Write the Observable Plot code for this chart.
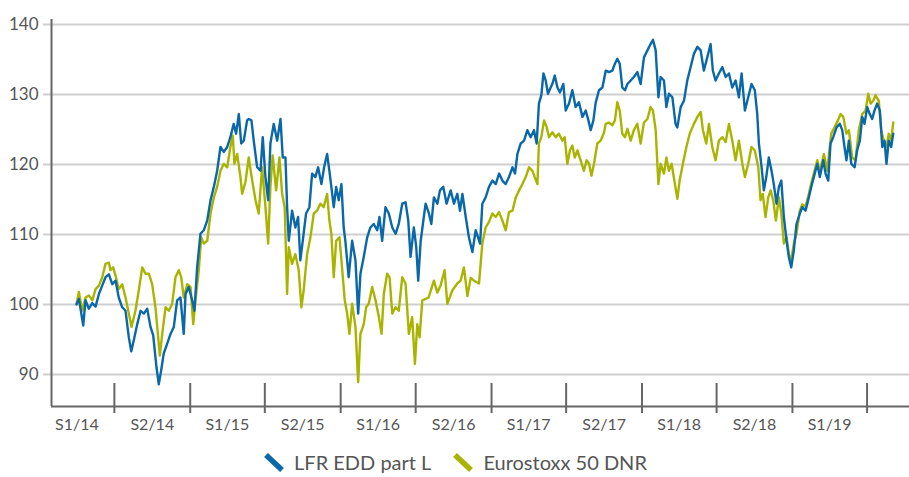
<!DOCTYPE html>
<html>
<head>
<meta charset="utf-8">
<script src="https://cdn.jsdelivr.net/npm/d3@7"></script>
<script src="https://cdn.jsdelivr.net/npm/@observablehq/plot@0.6"></script>
<style>
  html, body { margin: 0; padding: 0; background: #fff; }
  #chart svg { display: block; font-family: Lato, "Open Sans", sans-serif; }
  #legend { display: flex; justify-content: center; align-items: center; gap: 22px; height: 30px;
            font-family: Lato, "Open Sans", sans-serif; font-size: 20px; color: #555; margin-left: 2px; }
  #legend .item { display: flex; align-items: center; gap: 10px; }
</style>
</head>
<body>
<div id="chart"></div>
<div id="legend"></div>
<script>
// ---- data (decimal years, index values) ----
const seriesNames = ["LFR EDD part L", "Eurostoxx 50 DNR"];
const seriesColors = ["#0a67a8", "#a9b400"];

const blueT = [2014.244,2014.260,2014.289,2014.304,2014.326,2014.349,2014.371,2014.393,2014.415,2014.437,2014.459,2014.482,2014.504,2014.525,2014.548,2014.570,2014.592,2014.608,2014.625,2014.648,2014.670,2014.692,2014.714,2014.736,2014.754,2014.776,2014.791,2014.807,2014.824,2014.847,2014.869,2014.891,2014.913,2014.935,2014.957,2014.969,2014.990,2015.013,2015.028,2015.046,2015.068,2015.090,2015.113,2015.135,2015.157,2015.179,2015.201,2015.223,2015.246,2015.267,2015.289,2015.305,2015.323,2015.339,2015.356,2015.378,2015.389,2015.407,2015.422,2015.445,2015.467,2015.482,2015.500,2015.518,2015.533,2015.555,2015.578,2015.600,2015.615,2015.633,2015.644,2015.655,2015.677,2015.699,2015.717,2015.732,2015.748,2015.770,2015.792,2015.810,2015.832,2015.850,2015.872,2015.890,2015.910,2015.925,2015.938,2015.954,2015.970,2015.987,2016.005,2016.020,2016.031,2016.053,2016.076,2016.098,2016.116,2016.131,2016.153,2016.176,2016.197,2016.219,2016.242,2016.257,2016.275,2016.297,2016.319,2016.342,2016.364,2016.385,2016.408,2016.430,2016.448,2016.463,2016.485,2016.501,2016.514,2016.530,2016.548,2016.563,2016.585,2016.601,2016.618,2016.641,2016.658,2016.680,2016.702,2016.729,2016.751,2016.773,2016.791,2016.807,2016.829,2016.850,2016.873,2016.895,2016.924,2016.939,2016.961,2016.983,2017.006,2017.028,2017.050,2017.072,2017.094,2017.116,2017.139,2017.156,2017.172,2017.194,2017.216,2017.238,2017.260,2017.282,2017.300,2017.315,2017.331,2017.345,2017.360,2017.375,2017.393,2017.404,2017.420,2017.438,2017.455,2017.477,2017.493,2017.515,2017.537,2017.559,2017.581,2017.604,2017.626,2017.644,2017.659,2017.677,2017.692,2017.714,2017.737,2017.759,2017.780,2017.803,2017.820,2017.836,2017.852,2017.869,2017.887,2017.903,2017.925,2017.946,2017.969,2017.991,2018.013,2018.036,2018.057,2018.073,2018.091,2018.109,2018.124,2018.146,2018.162,2018.179,2018.202,2018.223,2018.235,2018.257,2018.279,2018.301,2018.323,2018.345,2018.368,2018.390,2018.411,2018.434,2018.456,2018.471,2018.489,2018.511,2018.534,2018.556,2018.578,2018.600,2018.622,2018.644,2018.662,2018.684,2018.706,2018.728,2018.750,2018.766,2018.777,2018.795,2018.810,2018.826,2018.843,2018.861,2018.876,2018.894,2018.910,2018.926,2018.943,2018.961,2018.976,2018.992,2019.009,2019.027,2019.049,2019.065,2019.087,2019.109,2019.125,2019.142,2019.165,2019.182,2019.205,2019.220,2019.238,2019.253,2019.271,2019.293,2019.315,2019.331,2019.346,2019.359,2019.375,2019.391,2019.413,2019.430,2019.448,2019.464,2019.479,2019.497,2019.514,2019.530,2019.545,2019.563,2019.581,2019.597,2019.612,2019.625,2019.640,2019.656,2019.670];
const blueV = [100.0,100.8,97.0,100.6,99.4,100.2,99.7,101.5,102.7,103.9,104.3,102.9,103.4,101.0,99.6,99.1,95.3,93.3,94.9,97.2,99.1,98.7,99.4,96.8,95.6,91.0,88.6,90.6,93.0,94.4,95.8,96.8,100.6,101.0,95.8,101.5,102.5,100.6,99.1,105.3,110.1,110.6,112.0,114.9,116.8,119.1,122.5,121.8,122.5,123.9,125.8,124.4,127.2,123.0,123.4,126.3,126.5,126.3,123.4,119.6,119.1,123.9,118.2,114.9,123.0,125.8,123.4,126.5,121.0,121.0,113.9,109.1,113.4,111.0,112.5,106.3,109.1,113.0,113.9,118.7,118.2,119.6,117.2,119.6,121.5,119.1,116.8,113.9,116.8,114.9,117.2,111.0,109.1,103.9,109.1,106.3,98.7,104.4,106.8,109.6,111.0,111.5,110.6,112.5,109.1,113.9,113.0,111.0,110.1,111.5,114.4,114.6,112.0,106.8,111.0,108.2,103.4,109.0,112.0,114.4,113.0,111.5,115.3,114.4,116.3,116.8,114.4,116.3,114.4,115.8,113.4,115.8,112.5,109.6,107.5,110.6,108.7,114.4,115.3,116.8,117.7,117.2,118.7,117.7,117.2,118.2,119.6,118.7,121.5,123.0,123.4,124.9,123.9,124.9,123.0,128.7,129.9,133.0,132.0,130.1,131.0,131.5,132.7,131.0,130.3,131.5,127.7,128.7,130.6,128.2,128.9,126.8,127.7,126.3,124.9,126.3,128.8,130.6,131.0,133.4,133.2,133.4,134.4,135.1,134.4,131.0,130.6,131.5,132.0,132.5,133.2,131.5,135.3,136.3,137.2,137.8,136.3,129.6,132.5,132.0,128.2,130.1,129.6,125.8,125.3,128.2,129.1,132.0,133.9,135.8,136.8,136.3,133.4,135.3,137.2,133.4,132.0,133.0,133.9,132.5,133.0,131.0,132.0,129.6,133.0,127.7,129.6,131.5,130.6,127.2,123.0,119.6,116.3,118.2,121.0,119.1,117.2,114.4,116.8,117.7,112.5,109.1,106.8,105.3,107.7,111.5,113.0,113.9,113.4,115.3,116.8,118.2,120.1,118.2,120.6,118.7,117.7,123.0,123.9,125.3,125.8,124.9,122.5,120.6,123.4,120.1,119.6,122.0,123.4,126.8,125.8,128.2,127.2,126.5,127.7,128.7,127.7,122.5,123.4,120.1,123.4,122.5,124.4];

const greenT = [2014.244,2014.260,2014.282,2014.304,2014.326,2014.349,2014.371,2014.393,2014.415,2014.437,2014.459,2014.470,2014.488,2014.504,2014.525,2014.548,2014.570,2014.592,2014.610,2014.636,2014.658,2014.681,2014.703,2014.725,2014.747,2014.769,2014.785,2014.798,2014.814,2014.836,2014.858,2014.880,2014.902,2014.924,2014.940,2014.957,2014.980,2015.002,2015.020,2015.035,2015.057,2015.073,2015.090,2015.113,2015.135,2015.157,2015.179,2015.201,2015.223,2015.246,2015.267,2015.283,2015.294,2015.312,2015.334,2015.345,2015.367,2015.389,2015.412,2015.434,2015.455,2015.478,2015.500,2015.518,2015.533,2015.548,2015.571,2015.593,2015.611,2015.628,2015.644,2015.655,2015.677,2015.699,2015.721,2015.739,2015.754,2015.777,2015.799,2015.821,2015.843,2015.865,2015.887,2015.910,2015.925,2015.938,2015.954,2015.970,2015.992,2016.009,2016.027,2016.043,2016.058,2016.076,2016.098,2016.116,2016.131,2016.153,2016.169,2016.186,2016.209,2016.231,2016.253,2016.271,2016.286,2016.308,2016.324,2016.342,2016.364,2016.385,2016.408,2016.430,2016.452,2016.474,2016.492,2016.508,2016.523,2016.541,2016.563,2016.583,2016.618,2016.641,2016.662,2016.689,2016.707,2016.740,2016.773,2016.795,2016.817,2016.840,2016.862,2016.884,2016.917,2016.939,2016.961,2016.983,2017.006,2017.028,2017.050,2017.072,2017.094,2017.116,2017.139,2017.161,2017.183,2017.205,2017.227,2017.249,2017.272,2017.287,2017.305,2017.315,2017.331,2017.349,2017.367,2017.382,2017.404,2017.426,2017.448,2017.471,2017.486,2017.504,2017.521,2017.537,2017.553,2017.571,2017.592,2017.614,2017.632,2017.648,2017.664,2017.681,2017.703,2017.725,2017.747,2017.759,2017.780,2017.803,2017.820,2017.836,2017.852,2017.869,2017.887,2017.903,2017.925,2017.946,2017.969,2017.991,2018.013,2018.036,2018.057,2018.073,2018.091,2018.109,2018.124,2018.146,2018.162,2018.179,2018.197,2018.219,2018.235,2018.250,2018.272,2018.295,2018.317,2018.345,2018.368,2018.390,2018.405,2018.427,2018.445,2018.467,2018.489,2018.511,2018.534,2018.556,2018.578,2018.600,2018.622,2018.644,2018.667,2018.684,2018.706,2018.728,2018.750,2018.773,2018.788,2018.803,2018.821,2018.839,2018.855,2018.872,2018.890,2018.910,2018.926,2018.943,2018.961,2018.976,2018.992,2019.009,2019.027,2019.049,2019.065,2019.087,2019.109,2019.125,2019.142,2019.165,2019.182,2019.209,2019.231,2019.258,2019.280,2019.302,2019.320,2019.338,2019.359,2019.375,2019.397,2019.419,2019.441,2019.464,2019.486,2019.504,2019.519,2019.537,2019.552,2019.574,2019.590,2019.607,2019.625,2019.640,2019.656,2019.670];
const greenV = [100.1,101.8,99.1,101.0,101.3,100.6,102.2,102.7,103.9,105.8,106.0,104.9,105.3,104.1,102.2,102.9,101.0,98.7,96.8,99.1,102.0,105.3,104.4,104.4,102.9,99.6,95.8,92.7,95.8,99.6,99.1,100.1,103.9,104.9,103.9,101.0,102.9,102.5,97.2,100.6,104.9,109.6,108.7,109.1,113.0,115.3,116.8,119.1,120.1,119.6,122.5,124.1,120.1,121.5,118.2,115.8,117.5,121.0,117.7,114.9,113.0,119.6,113.9,108.7,116.8,121.3,116.3,121.0,115.8,113.9,101.5,108.2,105.8,107.2,104.9,99.6,102.0,107.2,109.6,113.0,113.4,114.4,113.9,115.8,112.0,110.1,103.9,109.1,109.6,105.3,100.6,98.7,95.8,100.1,96.8,88.9,95.8,97.2,99.6,100.1,102.5,100.6,98.2,95.8,101.5,104.4,103.9,98.7,99.6,99.1,103.9,103.0,95.8,98.2,91.5,97.2,95.3,100.6,100.8,101.0,103.4,101.7,102.7,104.9,100.1,102.0,103.0,103.4,105.3,101.2,103.8,103.4,103.0,108.7,111.0,111.8,113.0,112.5,113.2,112.0,110.6,113.2,113.4,115.3,116.3,117.2,118.2,119.6,119.1,118.2,117.2,123.0,123.9,126.3,125.3,123.9,124.6,123.9,124.4,123.4,123.9,120.1,122.0,122.7,121.0,122.0,120.6,119.1,120.6,120.1,118.4,120.1,123.0,123.4,124.5,125.8,126.0,125.6,126.3,128.9,127.7,124.4,123.9,125.1,123.4,124.9,125.8,123.0,126.0,126.5,128.2,127.7,124.9,117.2,120.1,118.7,121.0,119.1,120.1,117.2,115.1,117.7,120.1,122.5,124.4,125.8,126.8,127.5,124.9,123.0,125.8,122.5,120.6,123.4,123.9,123.2,125.8,123.4,120.6,123.4,120.1,118.2,120.1,122.5,122.0,119.6,114.9,115.8,112.5,115.3,116.3,114.9,112.0,115.3,113.0,108.7,109.6,107.2,106.3,108.7,110.1,113.4,114.3,114.0,115.8,117.3,118.7,120.6,119.0,121.5,119.1,124.4,125.3,126.3,127.2,126.8,124.4,124.9,121.0,120.6,124.9,127.2,127.7,130.1,128.7,129.1,129.9,129.1,124.9,123.4,122.5,124.4,123.4,126.0];

const yTicks = [90, 100, 110, 120, 130, 140];
const semesterStarts = ["2014-07-01","2015-01-01","2015-07-01","2016-01-01","2016-07-01","2017-01-01","2017-07-01","2018-01-01","2018-07-01","2019-01-01","2019-07-01"];
const semesterLabels = ["S1/14","S2/14","S1/15","S2/15","S1/16","S2/16","S1/17","S2/17","S1/18","S2/18","S1/19"];
const semesterMids = ["2014-04-01","2014-10-01","2015-04-01","2015-10-01","2016-04-01","2016-10-01","2017-04-01","2017-10-01","2018-04-01","2018-10-01","2019-04-01"];

// ---- helpers ----
function toDate(t) {
  const y = Math.floor(t);
  const a = Date.UTC(y, 0, 1), b = Date.UTC(y + 1, 0, 1);
  return new Date(a + (t - y) * (b - a));
}
const rows = [];
blueT.forEach((t, i) => rows.push({date: toDate(t), value: blueV[i], series: seriesNames[0]}));
greenT.forEach((t, i) => rows.push({date: toDate(t), value: greenV[i], series: seriesNames[1]}));
const blueRows = rows.filter(d => d.series === seriesNames[0]);
const greenRows = rows.filter(d => d.series === seriesNames[1]);
const ticks = semesterStarts.map(s => new Date(s));
const labels = semesterMids.map((s, i) => ({date: new Date(s), label: semesterLabels[i]}));

const xDomain = [toDate(2014.078), toDate(2019.778)];
const yDomain = [85.43, 140.71];

const chart = Plot.plot({
  width: 909,
  height: 447,
  marginLeft: 51,
  marginRight: 0,
  marginTop: 19,
  marginBottom: 41,
  style: {fontFamily: "Lato, 'Open Sans', sans-serif", color: "#555", background: "#fff"},
  x: {type: "utc", domain: xDomain},
  y: {domain: yDomain},
  marks: [
    Plot.gridY(yTicks, {stroke: "#cfcfcf", strokeOpacity: 1, strokeWidth: 2, insetLeft: -8}),
    Plot.axisY(yTicks, {tickSize: 0, tickPadding: 13, fontSize: 17, fill: "#555", label: null}),
    Plot.axisX({ticks: [], label: null, tickSize: 0}),
    Plot.ruleX([xDomain[0]], {stroke: "#666", strokeWidth: 2}),
    Plot.ruleY([yDomain[0]], {stroke: "#666", strokeWidth: 2}),
    Plot.ruleX(ticks, {stroke: "#666", strokeWidth: 2, insetTop: 364, insetBottom: -7}),
    Plot.text(labels, {x: "date", text: "label", frameAnchor: "bottom", dy: 23, fontSize: 16, fill: "#555"}),
    Plot.line(greenRows, {x: "date", y: "value", stroke: seriesColors[1], strokeWidth: 2.4, strokeLinejoin: "round"}),
    Plot.line(blueRows, {x: "date", y: "value", stroke: seriesColors[0], strokeWidth: 2.4, strokeLinejoin: "round"})
  ]
});
document.getElementById("chart").appendChild(chart);

const legend = document.getElementById("legend");
seriesNames.forEach((name, i) => {
  const item = document.createElement("div");
  item.className = "item";
  item.innerHTML = `<svg width="20" height="20" viewBox="0 0 20 20"><line x1="2" y1="3" x2="18" y2="18" stroke="${seriesColors[i]}" stroke-width="5.5"/></svg><span>${name}</span>`;
  legend.appendChild(item);
});
</script>
</body>
</html>
